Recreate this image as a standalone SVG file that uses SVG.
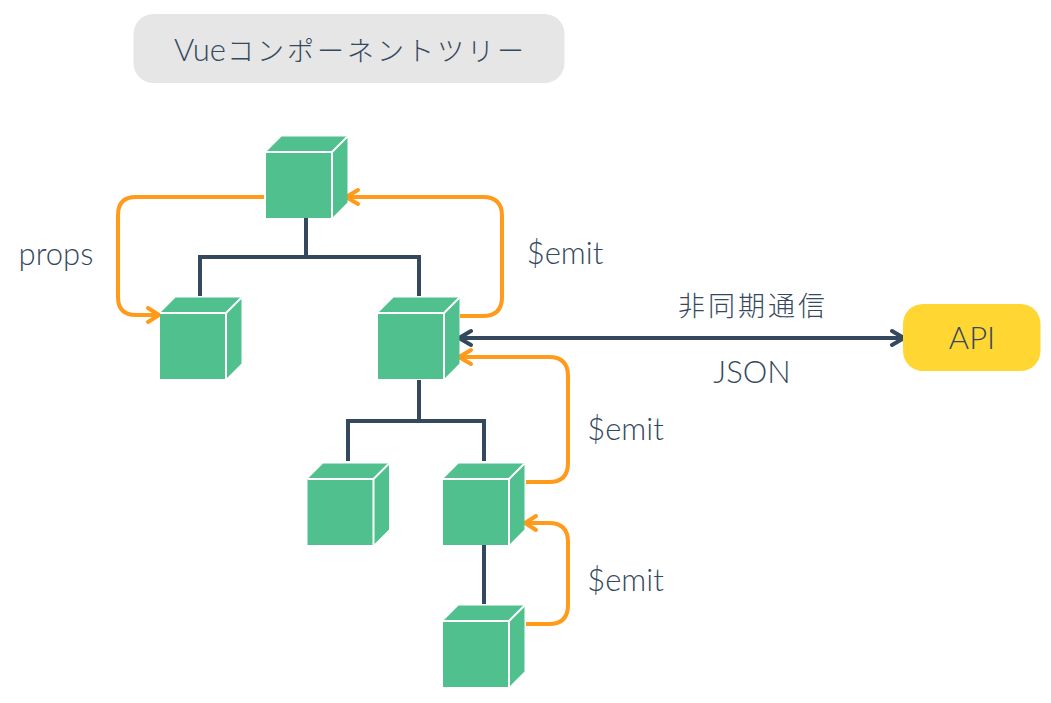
<svg xmlns="http://www.w3.org/2000/svg" xmlns:xlink="http://www.w3.org/1999/xlink" width="1051" height="703" viewBox="0 0 1051 703">
<style>
text{font-family:"Lato","Noto Sans CJK JP",sans-serif;font-weight:300;fill:#35495e;font-size:31px;text-anchor:middle}
.jp{font-size:27px;letter-spacing:3px}
.tree{fill:none;stroke:#35495e;stroke-width:4}
.or{fill:none;stroke:#ff9a1a;stroke-width:4}
.api{fill:none;stroke:#35495e;stroke-width:4}
.hd{fill:none;stroke-width:4;stroke-linecap:round;stroke-linejoin:round}
.cf{fill:#50c08f}
.ce{fill:none;stroke:#fff;stroke-width:2}
</style>
<defs>
<g id="cube">
<path class="cf" d="M0 0H66V66H0Z"/>
<path class="cf" d="M0 0L15.500 -15.500H81.500V50.500L66 66V0Z"/>
<path class="ce" d="M0 0H66V66M66 0L81.500 -15.500"/>
</g>
</defs>
<rect width="1051" height="703" fill="#fff"/>
<g id="connectors">
<path class="tree" d="M306 218V257M200 296V257H419V296M419 380V421M348 461V421H484V461M484 545V604"/>
<path class="or" d="M264 197H136Q118 197 118 215V297Q118 315 136 315H158"/>
<path class="hd" stroke="#ff9a1a" d="M148 308L159 315L148 322"/>
<path class="or" d="M460 316H483Q502 316 502 297V216Q502 197 483 197H346"/>
<path class="hd" stroke="#ff9a1a" d="M358 190L346 197L358 204"/>
<path class="or" d="M526 482H549Q568 482 568 463V376Q568 357 549 357H460"/>
<path class="hd" stroke="#ff9a1a" d="M471 350L459 357L471 364"/>
<path class="or" d="M526 624H549Q568 624 568 605V542Q568 523 549 523H526"/>
<path class="hd" stroke="#ff9a1a" d="M536 516L525 523L536 530"/>
<path class="api" d="M459 338H904"/>
<path class="hd" stroke="#35495e" d="M471 331L459 338L471 345M892 331L904 338L892 345"/>
</g>
<g id="title"><rect x="133.500" y="14" width="431" height="69" rx="20" fill="#e6e6e6"/><text x="174" y="61" style="text-anchor:start">Vue<tspan dx="1" class="jp">コンポーネントツリー</tspan></text></g>
<g id="n1"><use href="#cube" x="266" y="152"/></g>
<g id="n2"><use href="#cube" x="160" y="313"/></g>
<g id="n3"><use href="#cube" x="378" y="313"/></g>
<g id="n4"><use href="#cube" x="307.500" y="479"/></g>
<g id="n5"><use href="#cube" x="443" y="479"/></g>
<g id="n6"><use href="#cube" x="443" y="621"/></g>
<g id="api"><rect x="903" y="304" width="137.500" height="67" rx="20" fill="#ffd632"/><text x="972" y="349">API</text></g>
<g id="labels">
<text x="56" y="265">props</text>
<text x="565" y="264">$emit</text>
<text x="625.500" y="440">$emit</text>
<text x="625.500" y="591">$emit</text>
<text x="753" y="316" class="jp">非同期通信</text>
<text x="752" y="383">JSON</text>
</g>
</svg>
